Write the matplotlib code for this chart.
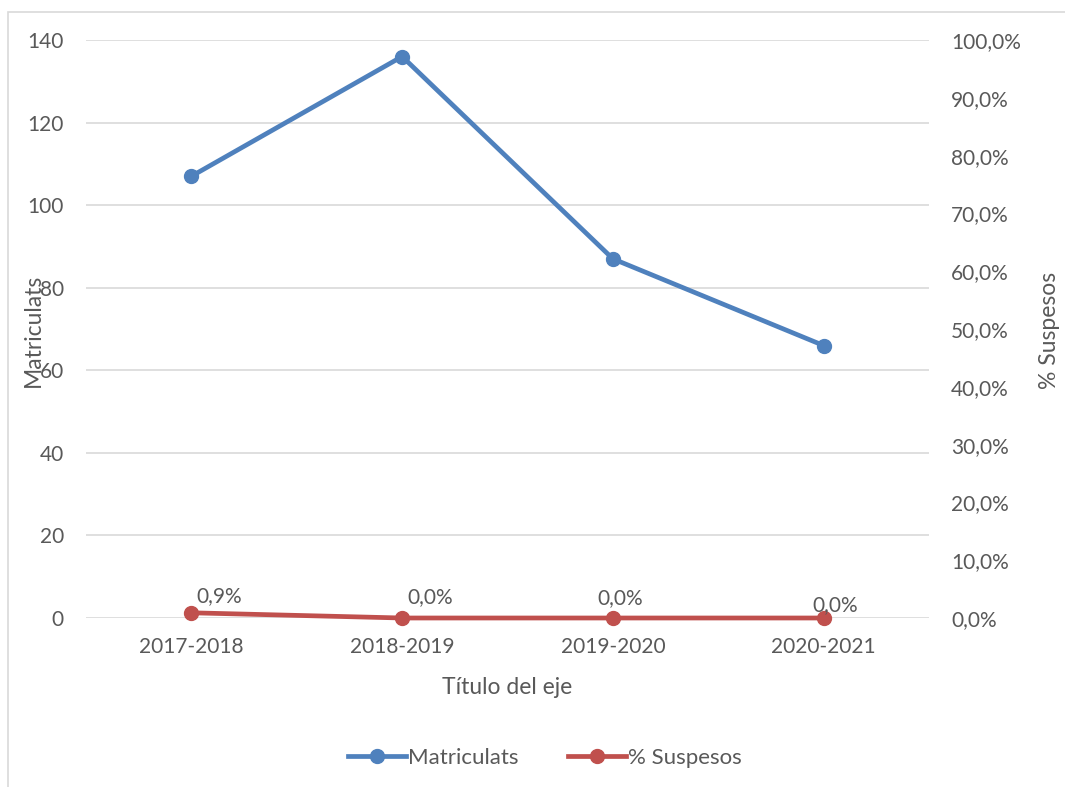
import matplotlib.pyplot as plt
from matplotlib.patches import Rectangle
from matplotlib.lines import Line2D

plt.rcParams['font.family'] = ['Lato', 'DejaVu Sans']

# curso académico, matriculats y % suspesos
cursos = ['2017-2018', '2018-2019', '2019-2020', '2020-2021']
matriculats = [107, 136, 87, 66]
suspesos = [0.009, 0.0, 0.0, 0.0]

blue = '#4F81BD'
red = '#C0504D'
txt = '#595959'
grid = '#D9D9D9'

W, H = 1065, 787
fig = plt.figure(figsize=(W / 100, H / 100), dpi=100)
ax = fig.add_axes([86 / W, 1 - 618 / H, (929 - 86) / W, (618 - 40) / H])
ax2 = ax.twinx()

# marco exterior del gráfico
fig.patches.append(Rectangle((8 / W, -0.1), 1.2, 1 - 12 / H + 0.1,
                             transform=fig.transFigure, fill=False,
                             edgecolor=grid, linewidth=1.2))

x = list(range(len(cursos)))
ax.plot(x, matriculats, color=blue, lw=3.4, marker='o', ms=10, zorder=3,
        clip_on=False)
ax2.plot(x, suspesos, color=red, lw=3.4, marker='o', ms=10, zorder=3,
         clip_on=False)

ax.set_xlim(-0.5, len(cursos) - 0.5)
ax.set_ylim(0, 140)
ax.set_yticks(range(0, 141, 20))
ax2.set_ylim(0, 1)
ax2.set_yticks([i / 10 for i in range(11)])
ax2.set_yticklabels([f'{i * 10},0%' for i in range(11)])

ax.set_xticks(x)
ax.set_xticklabels(cursos)
ax.yaxis.grid(True, color=grid, lw=1.2)
ax.set_axisbelow(True)

for a in (ax, ax2):
    for s in a.spines.values():
        s.set_visible(False)
    a.tick_params(length=0, labelsize=15, labelcolor=txt)
ax.tick_params(axis='y', pad=16)
ax2.tick_params(axis='y', pad=16)
ax.tick_params(axis='x', pad=14)

# etiquetas de datos de % suspesos
offsets = [(20, 12), (20, 15), (5, 14.5), (8, 9.5)]
for xi, v, off in zip(x, suspesos, offsets):
    ax2.annotate(f'{v * 100:.1f}%'.replace('.', ','), (xi, v), xytext=off,
                 textcoords='offset points', ha='center', va='center',
                 fontsize=15, color=txt)

# títulos de los ejes
fig.text(33 / W, 1 - 330 / H, 'Matriculats', rotation=90, ha='center',
         va='center', fontsize=16.5, color=txt)
fig.text(1050 / W, 1 - 330 / H, '% Suspesos', rotation=90, ha='center',
         va='center', fontsize=16.5, color=txt)
fig.text(507 / W, 1 - 688 / H, 'Título del eje', ha='center', va='center',
         fontsize=16.5, color=txt)

handles = [Line2D([], [], color=blue, lw=3.4, marker='o', ms=10),
           Line2D([], [], color=red, lw=3.4, marker='o', ms=10)]
fig.legend(handles, ['Matriculats', '% Suspesos'], loc='center',
           bbox_to_anchor=(545 / W, 1 - 758 / H), ncol=2, frameon=False,
           fontsize=16, labelcolor=txt, handlelength=2.6, handletextpad=0.1,
           columnspacing=2.2)

fig.savefig('out.png', dpi=100)
